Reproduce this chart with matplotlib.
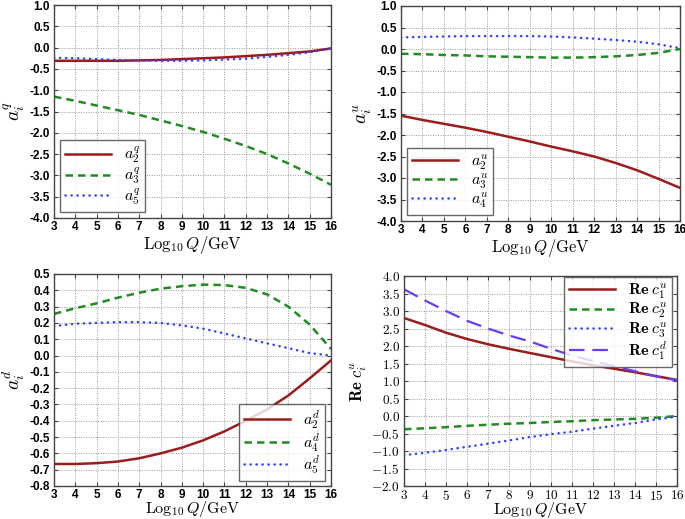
import matplotlib
matplotlib.use("Agg")
import matplotlib.pyplot as plt
from matplotlib.ticker import FuncFormatter, MultipleLocator

plt.rcParams['mathtext.fontset'] = 'cm'
plt.rcParams['font.family'] = ['Liberation Sans', 'DejaVu Sans']

x = [3, 4, 5, 6, 7, 8, 9, 10, 11, 12, 13, 14, 15, 16]

# top-left
a2q = [-0.31, -0.31, -0.31, -0.31, -0.30, -0.29, -0.27, -0.25, -0.23, -0.20, -0.17, -0.13, -0.09, -0.02]
a3q = [-1.15, -1.25, -1.36, -1.47, -1.58, -1.71, -1.84, -1.98, -2.14, -2.31, -2.50, -2.72, -2.96, -3.22]
a5q = [-0.24, -0.25, -0.27, -0.29, -0.30, -0.31, -0.31, -0.30, -0.28, -0.26, -0.22, -0.17, -0.11, -0.02]

# top-right
a2u = [-1.55, -1.65, -1.74, -1.83, -1.93, -2.04, -2.15, -2.27, -2.38, -2.50, -2.65, -2.82, -3.02, -3.23]
a3u = [-0.11, -0.12, -0.14, -0.15, -0.17, -0.18, -0.19, -0.20, -0.20, -0.19, -0.17, -0.14, -0.09, 0.00]
a4u = [0.27, 0.28, 0.29, 0.30, 0.30, 0.30, 0.30, 0.29, 0.27, 0.24, 0.21, 0.17, 0.11, 0.02]

# bottom-left
a2d = [-0.665, -0.665, -0.66, -0.65, -0.63, -0.60, -0.565, -0.52, -0.465, -0.40, -0.33, -0.245, -0.14, -0.03]
a4d = [0.255, 0.29, 0.32, 0.355, 0.385, 0.41, 0.425, 0.435, 0.432, 0.415, 0.375, 0.30, 0.19, 0.04]
a5d = [0.18, 0.195, 0.20, 0.205, 0.205, 0.20, 0.185, 0.165, 0.135, 0.105, 0.075, 0.045, 0.015, 0.0]

# bottom-right
c1u = [2.80, 2.60, 2.38, 2.20, 2.05, 1.92, 1.80, 1.68, 1.56, 1.45, 1.35, 1.25, 1.14, 1.03]
c2u = [-0.38, -0.35, -0.32, -0.28, -0.25, -0.22, -0.20, -0.17, -0.15, -0.12, -0.10, -0.08, -0.05, 0.0]
c3u = [-1.12, -1.05, -0.97, -0.88, -0.79, -0.70, -0.60, -0.52, -0.45, -0.36, -0.28, -0.20, -0.10, -0.02]
c1d = [3.62, 3.30, 3.00, 2.72, 2.50, 2.30, 2.13, 1.92, 1.73, 1.57, 1.42, 1.28, 1.13, 1.02]

RED = '#9b1c1c'
GREEN = '#228b22'
BLUE = '#3344ff'
PURPLE = '#6a3cf5'

W, H = 685, 519
fig = plt.figure(figsize=(W/100, H/100), dpi=100)

def add_ax(l, r, t, b):
    return fig.add_axes([l/W, 1-b/H, (r-l)/W, (b-t)/H])

def style(ax, ylim, ystep, ylabel, serif_ticks=False, xlabelpad=-1, xlsize=12):
    ax.set_xlim(3, 16)
    ax.set_ylim(*ylim)
    ax.xaxis.set_major_locator(MultipleLocator(1))
    ax.yaxis.set_major_locator(MultipleLocator(ystep))
    ax.grid(True, color='#999999', linestyle=(0, (1, 1.5)), linewidth=0.7)
    ax.tick_params(direction='in', top=True, right=True, length=3, width=0.8,
                   labelsize=8.5, pad=3, color='#444444')
    ax.tick_params(axis='x', pad=2)
    for s in ax.spines.values():
        s.set_color('#444444')
        s.set_linewidth(1.0)
    if serif_ticks:
        ax.yaxis.set_major_formatter(FuncFormatter(lambda v, p: r'$%.1f$' % v))
        ax.xaxis.set_major_formatter(FuncFormatter(lambda v, p: r'$%d$' % round(v)))
        for lab in ax.get_xticklabels() + ax.get_yticklabels():
            lab.set_fontsize(9.5)
    else:
        ax.yaxis.set_major_formatter(FuncFormatter(lambda v, p: '%.1f' % v))
        for lab in ax.get_xticklabels() + ax.get_yticklabels():
            lab.set_fontweight('bold')
    ax.set_xlabel(r'$\mathrm{Log}_{10}\,Q/\mathrm{GeV}$', fontsize=xlsize, labelpad=xlabelpad)
    ax.set_ylabel(ylabel, fontsize=14, labelpad=2)

def draw(ax, ys, labels, styles, loc, anchor):
    for y, lab, st in zip(ys, labels, styles):
        ax.plot(x, y, label=lab, **st)
    leg = ax.legend(loc=loc, bbox_to_anchor=anchor, fontsize=11.5, frameon=True,
                    fancybox=False, edgecolor='#444444', handlelength=2.9,
                    borderpad=0.3, labelspacing=0.0, markerfirst=True,
                    borderaxespad=0.0, handletextpad=0.8)
    leg.get_frame().set_linewidth(1.0)
    for t in leg.get_texts():
        t.set_ha('right')
    return leg

solid = dict(color=RED, lw=1.8, ls='-')
dashed = dict(color=GREEN, lw=1.8, ls=(0, (3, 2)))
dotted = dict(color=BLUE, lw=1.8, ls=(0, (0.1, 2.3)), dash_capstyle='round')
longdash = dict(color=PURPLE, lw=1.6, ls=(0, (7, 3.5)))

ax1 = add_ax(54, 331, 5, 218)
style(ax1, (-4.0, 1.0), 0.5, r'$a_i^q$', xlabelpad=1)
draw(ax1, [a2q, a3q, a5q], [r'$a_2^q$', r'$a_3^q$', r'$a_5^q$'],
     [solid, dashed, dotted], 'lower left', (6/277, 6/213))

ax2 = add_ax(401, 680, 6, 221)
style(ax2, (-4.0, 1.0), 0.5, r'$a_i^u$', xlabelpad=1)
draw(ax2, [a2u, a3u, a4u], [r'$a_2^u$', r'$a_3^u$', r'$a_4^u$'],
     [solid, dashed, dotted], 'lower left', (6/279, 6/215))

ax3 = add_ax(54, 331, 274, 486)
style(ax3, (-0.8, 0.5), 0.1, r'$a_i^d$', xlabelpad=-1, xlsize=11.5)
draw(ax3, [a2d, a4d, a5d], [r'$a_2^d$', r'$a_4^d$', r'$a_5^d$'],
     [solid, dashed, dotted], 'lower right', (1-6/277, 5/212))

ax4 = add_ax(404, 677, 276, 486)
style(ax4, (-2.0, 4.0), 0.5, r'$\mathrm{Re}\;c_i^u$', serif_ticks=True, xlabelpad=-2, xlsize=11.5)
ax4.set_ylabel(r'$\mathbf{Re}\;c_i^u$', fontsize=12, labelpad=2)
draw(ax4, [c1u, c2u, c3u, c1d],
     [r'$\mathbf{Re}\;c_1^u$', r'$\mathbf{Re}\;c_2^u$', r'$\mathbf{Re}\;c_3^u$', r'$\mathbf{Re}\;c_1^d$'],
     [solid, dashed, dotted, longdash], 'upper right', (1-5/273, 1-1/210))

fig.savefig('out.png', dpi=100)
